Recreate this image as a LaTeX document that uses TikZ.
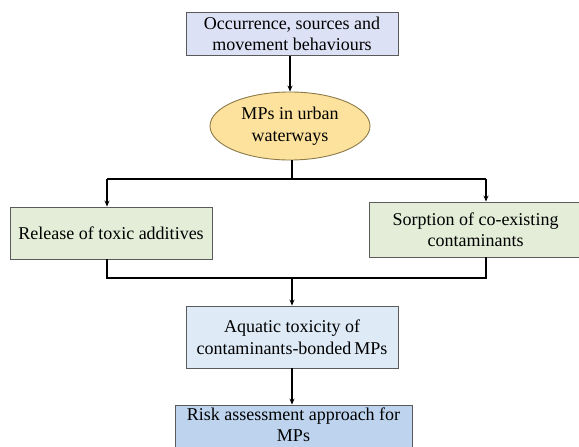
\documentclass[tikz,border=0pt]{standalone}
\usepackage{fontspec}
\setmainfont{Liberation Serif}
\usetikzlibrary{arrows.meta,shapes.geometric}
\definecolor{lav}{HTML}{DDE1F5}
\definecolor{grn}{HTML}{E3EDD8}
\definecolor{lblue}{HTML}{DEEAF6}
\definecolor{mblue}{HTML}{BDD3EE}
\definecolor{yel}{HTML}{FCE29C}
\definecolor{bord}{HTML}{5A5A5A}
\definecolor{ybord}{HTML}{8C7A4A}
\begin{document}
\begin{tikzpicture}[x=1pt,y=1pt,
  every node/.style={font=\fontsize{18}{21.5}\selectfont, align=center, inner sep=0pt},
  boxst/.style={draw=bord, line width=0.9pt, rectangle},
  conn/.style={black, line width=1.2pt},
  arr/.style={conn, -{Stealth[length=6pt,width=5pt]}}]
\useasboundingbox (0,0) rectangle (579,-447);
\node[boxst, fill=lav, minimum width=212, minimum height=43] (occ) at (292,-34) {Occurrence, sources and\\movement behaviours};
\node[ellipse, draw=ybord, line width=0.9pt, fill=yel, minimum width=160, minimum height=68] (mps) at (290,-126) {MPs in urban\\waterways};
\node[boxst, fill=grn, minimum width=202, minimum height=52] (rel) at (111,-233) {Release of toxic additives};
\node[boxst, fill=grn, minimum width=213, minimum height=55] (sor) at (475.5,-229.5) {Sorption of co-existing\\contaminants};
\node[boxst, fill=lblue, minimum width=212, minimum height=62] (aqu) at (292,-337) {Aquatic toxicity of\\contaminants-bonded\,MPs};
\node[boxst, fill=mblue, minimum width=237, minimum height=46] (risk) at (293.5,-428) {};
\node (risktxt) at (293.5,-424.5) {Risk assessment approach for\\MPs};
\coordinate (j1) at (292,-179);
\coordinate (jl) at (107,-179);
\coordinate (jr) at (486,-179);
\coordinate (k1) at (292,-278);
\coordinate (kl) at (107,-278);
\coordinate (kr) at (486,-278);
\draw[arr] (occ.south -| mps.north) -- (mps.north);
\draw[conn] (mps.south -| j1) -- (j1);
\draw[conn] (jl) -- (jr);
\draw[arr] (jl) -- (jl |- rel.north);
\draw[arr] (jr) -- (jr |- sor.north);
\draw[conn] (kl |- rel.south) -- (kl) -- (kr) -- (kr |- sor.south);
\draw[arr] (k1) -- (k1 |- aqu.north);
\draw[arr] (aqu.south) -- (risk.north -| aqu.south);
\end{tikzpicture}
\end{document}
